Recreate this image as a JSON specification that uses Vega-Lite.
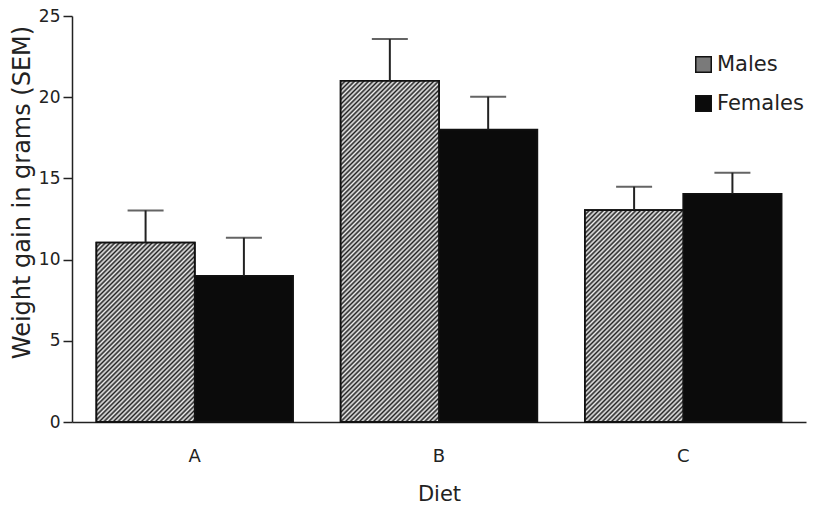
{
  "$schema": "https://vega.github.io/schema/vega-lite/v6.json",
  "width": 734,
  "height": 406,
  "autosize": {"type": "none"},
  "padding": {"left": 72, "top": 16, "right": 10, "bottom": 91},
  "background": "white",
  "config": {
    "font": "DejaVu Sans",
    "view": {"stroke": null},
    "axis": {"grid": false, "domainColor": "#222", "domainWidth": 1.5, "tickColor": "#222", "labelColor": "#222", "titleColor": "#222", "labelFont": "DejaVu Sans", "titleFont": "DejaVu Sans", "titleFontWeight": "normal"},
    "legend": {"labelFont": "DejaVu Sans"}
  },
  "data": {
    "values": [
      {"diet": "A", "sex": "Males", "gain": 11.05, "upper": 13.03},
      {"diet": "A", "sex": "Females", "gain": 9.0, "upper": 11.35},
      {"diet": "B", "sex": "Males", "gain": 21.0, "upper": 23.58},
      {"diet": "B", "sex": "Females", "gain": 18.0, "upper": 20.03},
      {"diet": "C", "sex": "Males", "gain": 13.05, "upper": 14.49},
      {"diet": "C", "sex": "Females", "gain": 14.05, "upper": 15.35}
    ]
  },
  "encoding": {
    "x": {
      "field": "diet", "type": "nominal", "title": "Diet",
      "scale": {"paddingInner": 0.195, "paddingOuter": 0.1},
      "axis": {"labelAngle": 0, "ticks": false, "labelFontSize": 18, "labelPadding": 25, "titleFontSize": 21, "titlePadding": 18}
    },
    "xOffset": {"field": "sex", "type": "nominal", "sort": ["Males", "Females"], "scale": {"domain": ["Males", "Females"], "paddingInner": 0, "paddingOuter": 0}},
    "y": {
      "field": "gain", "type": "quantitative", "title": "Weight gain in grams (SEM)",
      "scale": {"domain": [0, 25], "nice": false},
      "axis": {"values": [0, 5, 10, 15, 20, 25], "tickSize": 9, "tickWidth": 1.5, "labelFontSize": 17, "labelPadding": 3, "titleFontSize": 24, "titleX": -50, "titleY": 176, "titleBaseline": "middle", "titleAlign": "center"}
    }
  },
  "layer": [
    {
      "mark": {"type": "bar", "stroke": "#111", "strokeWidth": 1.8},
      "encoding": {
        "fill": {
          "field": "sex", "type": "nominal", "sort": ["Males", "Females"],
          "scale": {"domain": ["Males", "Females"], "range": ["#7a7a7a", "#0b0b0b"]},
          "legend": {
            "title": null, "orient": "none", "legendX": 621, "legendY": 38,
            "symbolType": "square", "symbolSize": 240, "symbolStrokeColor": "#111", "symbolStrokeWidth": 1.5,
            "labelFontSize": 21, "labelColor": "#222", "labelOffset": 3, "rowPadding": 16
          }
        }
      }
    },
    {
      "transform": [{"filter": "datum.sex === 'Males'"}],
      "mark": {"type": "bar", "stroke": "#111", "strokeWidth": 1.8},
      "encoding": {
        "fill": {
          "condition": [
            {"test": "datum.diet === 'A'", "value": {"gradient": "linear", "x1": 0, "y1": 0, "x2": 1.0954, "y2": 2.0002, "stops": [
{"offset":0,"color":"#222"},{"offset":0.005,"color":"#eee"},{"offset":0.01,"color":"#222"},{"offset":0.015,"color":"#eee"},{"offset":0.02,"color":"#222"},{"offset":0.025,"color":"#eee"},{"offset":0.03,"color":"#222"},{"offset":0.035,"color":"#eee"},{"offset":0.04,"color":"#222"},{"offset":0.045,"color":"#eee"},
{"offset":0.05,"color":"#222"},{"offset":0.055,"color":"#eee"},{"offset":0.06,"color":"#222"},{"offset":0.065,"color":"#eee"},{"offset":0.07,"color":"#222"},{"offset":0.075,"color":"#eee"},{"offset":0.08,"color":"#222"},{"offset":0.085,"color":"#eee"},{"offset":0.09,"color":"#222"},{"offset":0.095,"color":"#eee"},
{"offset":0.1,"color":"#222"},{"offset":0.105,"color":"#eee"},{"offset":0.11,"color":"#222"},{"offset":0.115,"color":"#eee"},{"offset":0.12,"color":"#222"},{"offset":0.125,"color":"#eee"},{"offset":0.13,"color":"#222"},{"offset":0.135,"color":"#eee"},{"offset":0.14,"color":"#222"},{"offset":0.145,"color":"#eee"},
{"offset":0.15,"color":"#222"},{"offset":0.155,"color":"#eee"},{"offset":0.16,"color":"#222"},{"offset":0.165,"color":"#eee"},{"offset":0.17,"color":"#222"},{"offset":0.175,"color":"#eee"},{"offset":0.18,"color":"#222"},{"offset":0.185,"color":"#eee"},{"offset":0.19,"color":"#222"},{"offset":0.195,"color":"#eee"},
{"offset":0.2,"color":"#222"},{"offset":0.205,"color":"#eee"},{"offset":0.21,"color":"#222"},{"offset":0.215,"color":"#eee"},{"offset":0.22,"color":"#222"},{"offset":0.225,"color":"#eee"},{"offset":0.23,"color":"#222"},{"offset":0.235,"color":"#eee"},{"offset":0.24,"color":"#222"},{"offset":0.245,"color":"#eee"},
{"offset":0.25,"color":"#222"},{"offset":0.255,"color":"#eee"},{"offset":0.26,"color":"#222"},{"offset":0.265,"color":"#eee"},{"offset":0.27,"color":"#222"},{"offset":0.275,"color":"#eee"},{"offset":0.28,"color":"#222"},{"offset":0.285,"color":"#eee"},{"offset":0.29,"color":"#222"},{"offset":0.295,"color":"#eee"},
{"offset":0.3,"color":"#222"},{"offset":0.305,"color":"#eee"},{"offset":0.31,"color":"#222"},{"offset":0.315,"color":"#eee"},{"offset":0.32,"color":"#222"},{"offset":0.325,"color":"#eee"},{"offset":0.33,"color":"#222"},{"offset":0.335,"color":"#eee"},{"offset":0.34,"color":"#222"},{"offset":0.345,"color":"#eee"},
{"offset":0.35,"color":"#222"},{"offset":0.355,"color":"#eee"},{"offset":0.36,"color":"#222"},{"offset":0.365,"color":"#eee"},{"offset":0.37,"color":"#222"},{"offset":0.375,"color":"#eee"},{"offset":0.38,"color":"#222"},{"offset":0.385,"color":"#eee"},{"offset":0.39,"color":"#222"},{"offset":0.395,"color":"#eee"},
{"offset":0.4,"color":"#222"},{"offset":0.405,"color":"#eee"},{"offset":0.41,"color":"#222"},{"offset":0.415,"color":"#eee"},{"offset":0.42,"color":"#222"},{"offset":0.425,"color":"#eee"},{"offset":0.43,"color":"#222"},{"offset":0.435,"color":"#eee"},{"offset":0.44,"color":"#222"},{"offset":0.445,"color":"#eee"},
{"offset":0.45,"color":"#222"},{"offset":0.455,"color":"#eee"},{"offset":0.46,"color":"#222"},{"offset":0.465,"color":"#eee"},{"offset":0.47,"color":"#222"},{"offset":0.475,"color":"#eee"},{"offset":0.48,"color":"#222"},{"offset":0.485,"color":"#eee"},{"offset":0.49,"color":"#222"},{"offset":0.495,"color":"#eee"},
{"offset":0.5,"color":"#222"},{"offset":0.505,"color":"#eee"},{"offset":0.51,"color":"#222"},{"offset":0.515,"color":"#eee"},{"offset":0.52,"color":"#222"},{"offset":0.525,"color":"#eee"},{"offset":0.53,"color":"#222"},{"offset":0.535,"color":"#eee"},{"offset":0.54,"color":"#222"},{"offset":0.545,"color":"#eee"},
{"offset":0.55,"color":"#222"},{"offset":0.555,"color":"#eee"},{"offset":0.56,"color":"#222"},{"offset":0.565,"color":"#eee"},{"offset":0.57,"color":"#222"},{"offset":0.575,"color":"#eee"},{"offset":0.58,"color":"#222"},{"offset":0.585,"color":"#eee"},{"offset":0.59,"color":"#222"},{"offset":0.595,"color":"#eee"},
{"offset":0.6,"color":"#222"},{"offset":0.605,"color":"#eee"},{"offset":0.61,"color":"#222"},{"offset":0.615,"color":"#eee"},{"offset":0.62,"color":"#222"},{"offset":0.625,"color":"#eee"},{"offset":0.63,"color":"#222"},{"offset":0.635,"color":"#eee"},{"offset":0.64,"color":"#222"},{"offset":0.645,"color":"#eee"},
{"offset":0.65,"color":"#222"},{"offset":0.655,"color":"#eee"},{"offset":0.66,"color":"#222"},{"offset":0.665,"color":"#eee"},{"offset":0.67,"color":"#222"},{"offset":0.675,"color":"#eee"},{"offset":0.68,"color":"#222"},{"offset":0.685,"color":"#eee"},{"offset":0.69,"color":"#222"},{"offset":0.695,"color":"#eee"},
{"offset":0.7,"color":"#222"},{"offset":0.705,"color":"#eee"},{"offset":0.71,"color":"#222"},{"offset":0.715,"color":"#eee"},{"offset":0.72,"color":"#222"},{"offset":0.725,"color":"#eee"},{"offset":0.73,"color":"#222"},{"offset":0.735,"color":"#eee"},{"offset":0.74,"color":"#222"},{"offset":0.745,"color":"#eee"},
{"offset":0.75,"color":"#222"},{"offset":0.755,"color":"#eee"},{"offset":0.76,"color":"#222"},{"offset":0.765,"color":"#eee"},{"offset":0.77,"color":"#222"},{"offset":0.775,"color":"#eee"},{"offset":0.78,"color":"#222"},{"offset":0.785,"color":"#eee"},{"offset":0.79,"color":"#222"},{"offset":0.795,"color":"#eee"},
{"offset":0.8,"color":"#222"},{"offset":0.805,"color":"#eee"},{"offset":0.81,"color":"#222"},{"offset":0.815,"color":"#eee"},{"offset":0.82,"color":"#222"},{"offset":0.825,"color":"#eee"},{"offset":0.83,"color":"#222"},{"offset":0.835,"color":"#eee"},{"offset":0.84,"color":"#222"},{"offset":0.845,"color":"#eee"},
{"offset":0.85,"color":"#222"},{"offset":0.855,"color":"#eee"},{"offset":0.86,"color":"#222"},{"offset":0.865,"color":"#eee"},{"offset":0.87,"color":"#222"},{"offset":0.875,"color":"#eee"},{"offset":0.88,"color":"#222"},{"offset":0.885,"color":"#eee"},{"offset":0.89,"color":"#222"},{"offset":0.895,"color":"#eee"},
{"offset":0.9,"color":"#222"},{"offset":0.905,"color":"#eee"},{"offset":0.91,"color":"#222"},{"offset":0.915,"color":"#eee"},{"offset":0.92,"color":"#222"},{"offset":0.925,"color":"#eee"},{"offset":0.93,"color":"#222"},{"offset":0.935,"color":"#eee"},{"offset":0.94,"color":"#222"},{"offset":0.945,"color":"#eee"},
{"offset":0.95,"color":"#222"},{"offset":0.955,"color":"#eee"},{"offset":0.96,"color":"#222"},{"offset":0.965,"color":"#eee"},{"offset":0.97,"color":"#222"},{"offset":0.975,"color":"#eee"},{"offset":0.98,"color":"#222"},{"offset":0.985,"color":"#eee"},{"offset":0.99,"color":"#222"},{"offset":0.995,"color":"#eee"},
{"offset":1,"color":"#222"}
            ]}},
            {"test": "datum.diet === 'B'", "value": {"gradient": "linear", "x1": 0, "y1": 0, "x2": 0.3643, "y2": 1.2636, "stops": [
{"offset":0,"color":"#222"},{"offset":0.005,"color":"#eee"},{"offset":0.01,"color":"#222"},{"offset":0.015,"color":"#eee"},{"offset":0.02,"color":"#222"},{"offset":0.025,"color":"#eee"},{"offset":0.03,"color":"#222"},{"offset":0.035,"color":"#eee"},{"offset":0.04,"color":"#222"},{"offset":0.045,"color":"#eee"},
{"offset":0.05,"color":"#222"},{"offset":0.055,"color":"#eee"},{"offset":0.06,"color":"#222"},{"offset":0.065,"color":"#eee"},{"offset":0.07,"color":"#222"},{"offset":0.075,"color":"#eee"},{"offset":0.08,"color":"#222"},{"offset":0.085,"color":"#eee"},{"offset":0.09,"color":"#222"},{"offset":0.095,"color":"#eee"},
{"offset":0.1,"color":"#222"},{"offset":0.105,"color":"#eee"},{"offset":0.11,"color":"#222"},{"offset":0.115,"color":"#eee"},{"offset":0.12,"color":"#222"},{"offset":0.125,"color":"#eee"},{"offset":0.13,"color":"#222"},{"offset":0.135,"color":"#eee"},{"offset":0.14,"color":"#222"},{"offset":0.145,"color":"#eee"},
{"offset":0.15,"color":"#222"},{"offset":0.155,"color":"#eee"},{"offset":0.16,"color":"#222"},{"offset":0.165,"color":"#eee"},{"offset":0.17,"color":"#222"},{"offset":0.175,"color":"#eee"},{"offset":0.18,"color":"#222"},{"offset":0.185,"color":"#eee"},{"offset":0.19,"color":"#222"},{"offset":0.195,"color":"#eee"},
{"offset":0.2,"color":"#222"},{"offset":0.205,"color":"#eee"},{"offset":0.21,"color":"#222"},{"offset":0.215,"color":"#eee"},{"offset":0.22,"color":"#222"},{"offset":0.225,"color":"#eee"},{"offset":0.23,"color":"#222"},{"offset":0.235,"color":"#eee"},{"offset":0.24,"color":"#222"},{"offset":0.245,"color":"#eee"},
{"offset":0.25,"color":"#222"},{"offset":0.255,"color":"#eee"},{"offset":0.26,"color":"#222"},{"offset":0.265,"color":"#eee"},{"offset":0.27,"color":"#222"},{"offset":0.275,"color":"#eee"},{"offset":0.28,"color":"#222"},{"offset":0.285,"color":"#eee"},{"offset":0.29,"color":"#222"},{"offset":0.295,"color":"#eee"},
{"offset":0.3,"color":"#222"},{"offset":0.305,"color":"#eee"},{"offset":0.31,"color":"#222"},{"offset":0.315,"color":"#eee"},{"offset":0.32,"color":"#222"},{"offset":0.325,"color":"#eee"},{"offset":0.33,"color":"#222"},{"offset":0.335,"color":"#eee"},{"offset":0.34,"color":"#222"},{"offset":0.345,"color":"#eee"},
{"offset":0.35,"color":"#222"},{"offset":0.355,"color":"#eee"},{"offset":0.36,"color":"#222"},{"offset":0.365,"color":"#eee"},{"offset":0.37,"color":"#222"},{"offset":0.375,"color":"#eee"},{"offset":0.38,"color":"#222"},{"offset":0.385,"color":"#eee"},{"offset":0.39,"color":"#222"},{"offset":0.395,"color":"#eee"},
{"offset":0.4,"color":"#222"},{"offset":0.405,"color":"#eee"},{"offset":0.41,"color":"#222"},{"offset":0.415,"color":"#eee"},{"offset":0.42,"color":"#222"},{"offset":0.425,"color":"#eee"},{"offset":0.43,"color":"#222"},{"offset":0.435,"color":"#eee"},{"offset":0.44,"color":"#222"},{"offset":0.445,"color":"#eee"},
{"offset":0.45,"color":"#222"},{"offset":0.455,"color":"#eee"},{"offset":0.46,"color":"#222"},{"offset":0.465,"color":"#eee"},{"offset":0.47,"color":"#222"},{"offset":0.475,"color":"#eee"},{"offset":0.48,"color":"#222"},{"offset":0.485,"color":"#eee"},{"offset":0.49,"color":"#222"},{"offset":0.495,"color":"#eee"},
{"offset":0.5,"color":"#222"},{"offset":0.505,"color":"#eee"},{"offset":0.51,"color":"#222"},{"offset":0.515,"color":"#eee"},{"offset":0.52,"color":"#222"},{"offset":0.525,"color":"#eee"},{"offset":0.53,"color":"#222"},{"offset":0.535,"color":"#eee"},{"offset":0.54,"color":"#222"},{"offset":0.545,"color":"#eee"},
{"offset":0.55,"color":"#222"},{"offset":0.555,"color":"#eee"},{"offset":0.56,"color":"#222"},{"offset":0.565,"color":"#eee"},{"offset":0.57,"color":"#222"},{"offset":0.575,"color":"#eee"},{"offset":0.58,"color":"#222"},{"offset":0.585,"color":"#eee"},{"offset":0.59,"color":"#222"},{"offset":0.595,"color":"#eee"},
{"offset":0.6,"color":"#222"},{"offset":0.605,"color":"#eee"},{"offset":0.61,"color":"#222"},{"offset":0.615,"color":"#eee"},{"offset":0.62,"color":"#222"},{"offset":0.625,"color":"#eee"},{"offset":0.63,"color":"#222"},{"offset":0.635,"color":"#eee"},{"offset":0.64,"color":"#222"},{"offset":0.645,"color":"#eee"},
{"offset":0.65,"color":"#222"},{"offset":0.655,"color":"#eee"},{"offset":0.66,"color":"#222"},{"offset":0.665,"color":"#eee"},{"offset":0.67,"color":"#222"},{"offset":0.675,"color":"#eee"},{"offset":0.68,"color":"#222"},{"offset":0.685,"color":"#eee"},{"offset":0.69,"color":"#222"},{"offset":0.695,"color":"#eee"},
{"offset":0.7,"color":"#222"},{"offset":0.705,"color":"#eee"},{"offset":0.71,"color":"#222"},{"offset":0.715,"color":"#eee"},{"offset":0.72,"color":"#222"},{"offset":0.725,"color":"#eee"},{"offset":0.73,"color":"#222"},{"offset":0.735,"color":"#eee"},{"offset":0.74,"color":"#222"},{"offset":0.745,"color":"#eee"},
{"offset":0.75,"color":"#222"},{"offset":0.755,"color":"#eee"},{"offset":0.76,"color":"#222"},{"offset":0.765,"color":"#eee"},{"offset":0.77,"color":"#222"},{"offset":0.775,"color":"#eee"},{"offset":0.78,"color":"#222"},{"offset":0.785,"color":"#eee"},{"offset":0.79,"color":"#222"},{"offset":0.795,"color":"#eee"},
{"offset":0.8,"color":"#222"},{"offset":0.805,"color":"#eee"},{"offset":0.81,"color":"#222"},{"offset":0.815,"color":"#eee"},{"offset":0.82,"color":"#222"},{"offset":0.825,"color":"#eee"},{"offset":0.83,"color":"#222"},{"offset":0.835,"color":"#eee"},{"offset":0.84,"color":"#222"},{"offset":0.845,"color":"#eee"},
{"offset":0.85,"color":"#222"},{"offset":0.855,"color":"#eee"},{"offset":0.86,"color":"#222"},{"offset":0.865,"color":"#eee"},{"offset":0.87,"color":"#222"},{"offset":0.875,"color":"#eee"},{"offset":0.88,"color":"#222"},{"offset":0.885,"color":"#eee"},{"offset":0.89,"color":"#222"},{"offset":0.895,"color":"#eee"},
{"offset":0.9,"color":"#222"},{"offset":0.905,"color":"#eee"},{"offset":0.91,"color":"#222"},{"offset":0.915,"color":"#eee"},{"offset":0.92,"color":"#222"},{"offset":0.925,"color":"#eee"},{"offset":0.93,"color":"#222"},{"offset":0.935,"color":"#eee"},{"offset":0.94,"color":"#222"},{"offset":0.945,"color":"#eee"},
{"offset":0.95,"color":"#222"},{"offset":0.955,"color":"#eee"},{"offset":0.96,"color":"#222"},{"offset":0.965,"color":"#eee"},{"offset":0.97,"color":"#222"},{"offset":0.975,"color":"#eee"},{"offset":0.98,"color":"#222"},{"offset":0.985,"color":"#eee"},{"offset":0.99,"color":"#222"},{"offset":0.995,"color":"#eee"},
{"offset":1,"color":"#222"}
            ]}}
          ],
          "value": {"gradient": "linear", "x1": 0, "y1": 0, "x2": 0.8408, "y2": 1.8124, "stops": [
{"offset":0,"color":"#222"},{"offset":0.005,"color":"#eee"},{"offset":0.01,"color":"#222"},{"offset":0.015,"color":"#eee"},{"offset":0.02,"color":"#222"},{"offset":0.025,"color":"#eee"},{"offset":0.03,"color":"#222"},{"offset":0.035,"color":"#eee"},{"offset":0.04,"color":"#222"},{"offset":0.045,"color":"#eee"},
{"offset":0.05,"color":"#222"},{"offset":0.055,"color":"#eee"},{"offset":0.06,"color":"#222"},{"offset":0.065,"color":"#eee"},{"offset":0.07,"color":"#222"},{"offset":0.075,"color":"#eee"},{"offset":0.08,"color":"#222"},{"offset":0.085,"color":"#eee"},{"offset":0.09,"color":"#222"},{"offset":0.095,"color":"#eee"},
{"offset":0.1,"color":"#222"},{"offset":0.105,"color":"#eee"},{"offset":0.11,"color":"#222"},{"offset":0.115,"color":"#eee"},{"offset":0.12,"color":"#222"},{"offset":0.125,"color":"#eee"},{"offset":0.13,"color":"#222"},{"offset":0.135,"color":"#eee"},{"offset":0.14,"color":"#222"},{"offset":0.145,"color":"#eee"},
{"offset":0.15,"color":"#222"},{"offset":0.155,"color":"#eee"},{"offset":0.16,"color":"#222"},{"offset":0.165,"color":"#eee"},{"offset":0.17,"color":"#222"},{"offset":0.175,"color":"#eee"},{"offset":0.18,"color":"#222"},{"offset":0.185,"color":"#eee"},{"offset":0.19,"color":"#222"},{"offset":0.195,"color":"#eee"},
{"offset":0.2,"color":"#222"},{"offset":0.205,"color":"#eee"},{"offset":0.21,"color":"#222"},{"offset":0.215,"color":"#eee"},{"offset":0.22,"color":"#222"},{"offset":0.225,"color":"#eee"},{"offset":0.23,"color":"#222"},{"offset":0.235,"color":"#eee"},{"offset":0.24,"color":"#222"},{"offset":0.245,"color":"#eee"},
{"offset":0.25,"color":"#222"},{"offset":0.255,"color":"#eee"},{"offset":0.26,"color":"#222"},{"offset":0.265,"color":"#eee"},{"offset":0.27,"color":"#222"},{"offset":0.275,"color":"#eee"},{"offset":0.28,"color":"#222"},{"offset":0.285,"color":"#eee"},{"offset":0.29,"color":"#222"},{"offset":0.295,"color":"#eee"},
{"offset":0.3,"color":"#222"},{"offset":0.305,"color":"#eee"},{"offset":0.31,"color":"#222"},{"offset":0.315,"color":"#eee"},{"offset":0.32,"color":"#222"},{"offset":0.325,"color":"#eee"},{"offset":0.33,"color":"#222"},{"offset":0.335,"color":"#eee"},{"offset":0.34,"color":"#222"},{"offset":0.345,"color":"#eee"},
{"offset":0.35,"color":"#222"},{"offset":0.355,"color":"#eee"},{"offset":0.36,"color":"#222"},{"offset":0.365,"color":"#eee"},{"offset":0.37,"color":"#222"},{"offset":0.375,"color":"#eee"},{"offset":0.38,"color":"#222"},{"offset":0.385,"color":"#eee"},{"offset":0.39,"color":"#222"},{"offset":0.395,"color":"#eee"},
{"offset":0.4,"color":"#222"},{"offset":0.405,"color":"#eee"},{"offset":0.41,"color":"#222"},{"offset":0.415,"color":"#eee"},{"offset":0.42,"color":"#222"},{"offset":0.425,"color":"#eee"},{"offset":0.43,"color":"#222"},{"offset":0.435,"color":"#eee"},{"offset":0.44,"color":"#222"},{"offset":0.445,"color":"#eee"},
{"offset":0.45,"color":"#222"},{"offset":0.455,"color":"#eee"},{"offset":0.46,"color":"#222"},{"offset":0.465,"color":"#eee"},{"offset":0.47,"color":"#222"},{"offset":0.475,"color":"#eee"},{"offset":0.48,"color":"#222"},{"offset":0.485,"color":"#eee"},{"offset":0.49,"color":"#222"},{"offset":0.495,"color":"#eee"},
{"offset":0.5,"color":"#222"},{"offset":0.505,"color":"#eee"},{"offset":0.51,"color":"#222"},{"offset":0.515,"color":"#eee"},{"offset":0.52,"color":"#222"},{"offset":0.525,"color":"#eee"},{"offset":0.53,"color":"#222"},{"offset":0.535,"color":"#eee"},{"offset":0.54,"color":"#222"},{"offset":0.545,"color":"#eee"},
{"offset":0.55,"color":"#222"},{"offset":0.555,"color":"#eee"},{"offset":0.56,"color":"#222"},{"offset":0.565,"color":"#eee"},{"offset":0.57,"color":"#222"},{"offset":0.575,"color":"#eee"},{"offset":0.58,"color":"#222"},{"offset":0.585,"color":"#eee"},{"offset":0.59,"color":"#222"},{"offset":0.595,"color":"#eee"},
{"offset":0.6,"color":"#222"},{"offset":0.605,"color":"#eee"},{"offset":0.61,"color":"#222"},{"offset":0.615,"color":"#eee"},{"offset":0.62,"color":"#222"},{"offset":0.625,"color":"#eee"},{"offset":0.63,"color":"#222"},{"offset":0.635,"color":"#eee"},{"offset":0.64,"color":"#222"},{"offset":0.645,"color":"#eee"},
{"offset":0.65,"color":"#222"},{"offset":0.655,"color":"#eee"},{"offset":0.66,"color":"#222"},{"offset":0.665,"color":"#eee"},{"offset":0.67,"color":"#222"},{"offset":0.675,"color":"#eee"},{"offset":0.68,"color":"#222"},{"offset":0.685,"color":"#eee"},{"offset":0.69,"color":"#222"},{"offset":0.695,"color":"#eee"},
{"offset":0.7,"color":"#222"},{"offset":0.705,"color":"#eee"},{"offset":0.71,"color":"#222"},{"offset":0.715,"color":"#eee"},{"offset":0.72,"color":"#222"},{"offset":0.725,"color":"#eee"},{"offset":0.73,"color":"#222"},{"offset":0.735,"color":"#eee"},{"offset":0.74,"color":"#222"},{"offset":0.745,"color":"#eee"},
{"offset":0.75,"color":"#222"},{"offset":0.755,"color":"#eee"},{"offset":0.76,"color":"#222"},{"offset":0.765,"color":"#eee"},{"offset":0.77,"color":"#222"},{"offset":0.775,"color":"#eee"},{"offset":0.78,"color":"#222"},{"offset":0.785,"color":"#eee"},{"offset":0.79,"color":"#222"},{"offset":0.795,"color":"#eee"},
{"offset":0.8,"color":"#222"},{"offset":0.805,"color":"#eee"},{"offset":0.81,"color":"#222"},{"offset":0.815,"color":"#eee"},{"offset":0.82,"color":"#222"},{"offset":0.825,"color":"#eee"},{"offset":0.83,"color":"#222"},{"offset":0.835,"color":"#eee"},{"offset":0.84,"color":"#222"},{"offset":0.845,"color":"#eee"},
{"offset":0.85,"color":"#222"},{"offset":0.855,"color":"#eee"},{"offset":0.86,"color":"#222"},{"offset":0.865,"color":"#eee"},{"offset":0.87,"color":"#222"},{"offset":0.875,"color":"#eee"},{"offset":0.88,"color":"#222"},{"offset":0.885,"color":"#eee"},{"offset":0.89,"color":"#222"},{"offset":0.895,"color":"#eee"},
{"offset":0.9,"color":"#222"},{"offset":0.905,"color":"#eee"},{"offset":0.91,"color":"#222"},{"offset":0.915,"color":"#eee"},{"offset":0.92,"color":"#222"},{"offset":0.925,"color":"#eee"},{"offset":0.93,"color":"#222"},{"offset":0.935,"color":"#eee"},{"offset":0.94,"color":"#222"},{"offset":0.945,"color":"#eee"},
{"offset":0.95,"color":"#222"},{"offset":0.955,"color":"#eee"},{"offset":0.96,"color":"#222"},{"offset":0.965,"color":"#eee"},{"offset":0.97,"color":"#222"},{"offset":0.975,"color":"#eee"},{"offset":0.98,"color":"#222"},{"offset":0.985,"color":"#eee"},{"offset":0.99,"color":"#222"},{"offset":0.995,"color":"#eee"},
{"offset":1,"color":"#222"}
          ]}
        }
      }
    },
    {
      "mark": {"type": "rule", "color": "#222", "strokeWidth": 2},
      "encoding": {
        "y2": {"field": "upper"}
      }
    },
    {
      "mark": {"type": "tick", "orient": "horizontal", "color": "#222", "size": 36, "thickness": 2},
      "encoding": {
        "y": {"field": "upper", "type": "quantitative"}
      }
    }
  ]
}
